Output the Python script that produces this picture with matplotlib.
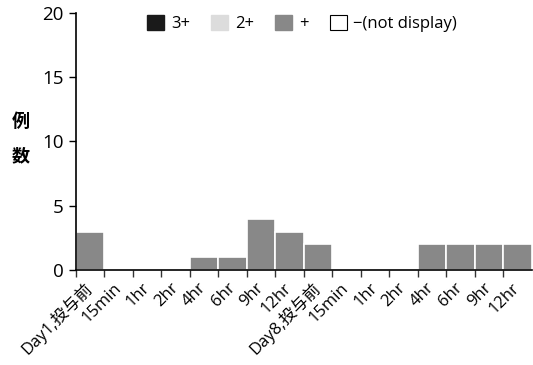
import numpy as np
import matplotlib
matplotlib.use("Agg")
import matplotlib.pyplot as plt
from matplotlib.patches import Patch

plt.rcParams['font.family'] = ['Open Sans', 'Noto Sans CJK JP', 'DejaVu Sans']

categories = ["Day1,投与前", "15min", "1hr", "2hr", "4hr", "6hr", "9hr", "12hr",
              "Day8,投与前", "15min", "1hr", "2hr", "4hr", "6hr", "9hr", "12hr"]
grade3 = [0, 0, 0, 0, 0, 0, 0, 0, 0, 0, 0, 0, 0, 0, 0, 0]
grade2 = [0, 0, 0, 0, 0, 0, 0, 0, 0, 0, 0, 0, 0, 0, 0, 0]
grade1 = [3, 0, 0, 0, 1, 1, 4, 3, 2, 0, 0, 0, 2, 2, 2, 2]

fig = plt.figure(figsize=(5.33, 3.65), dpi=100)
ax = fig.add_axes([0.1425, 0.26, 0.855, 0.705])

x = np.arange(len(categories))
bottom = np.zeros(len(categories))
for vals, col in [(grade3, "#1a1a1a"), (grade2, "#dcdcdc"), (grade1, "#888888")]:
    ax.bar(x, vals, bottom=bottom, width=1.0, color=col, edgecolor="white", linewidth=1.2)
    bottom += np.array(vals)

ax.set_xlim(-0.5, len(categories) - 0.5)
ax.set_ylim(0, 20)
ax.set_yticks([0, 5, 10, 15, 20])
ax.tick_params(axis="y", labelsize=13.5, length=5, width=1, pad=4)

# labels at bar centres, tick marks at the bar edges
ax.set_xticks(x)
ax.set_xticklabels(categories, rotation=45, ha="right", va="center", rotation_mode="anchor", fontsize=12)
ax.tick_params(axis="x", which="major", length=0, pad=11)
ax.set_xticks(np.arange(-0.5, len(categories) - 0.5, 1), minor=True)
ax.tick_params(axis="x", which="minor", length=5, width=1, color="#333333")

for s in ["top", "right"]:
    ax.spines[s].set_visible(False)
ax.spines["left"].set_linewidth(1.2)
ax.spines["bottom"].set_linewidth(1.2)

fig.text(0.038, 0.62, "例\n\n数", fontsize=13, fontweight="bold", ha="center", va="center",
         linespacing=0.9, family=['Noto Sans CJK JP'])

handles = [Patch(facecolor="#1a1a1a", edgecolor="#1a1a1a"),
           Patch(facecolor="#dcdcdc", edgecolor="#dcdcdc"),
           Patch(facecolor="#888888", edgecolor="#888888"),
           Patch(facecolor="white", edgecolor="black", linewidth=0.8)]
labels = ["3+", "2+", "+", "\u2212(not display)"]
fig.legend(handles, labels, loc="center", bbox_to_anchor=(0.567, 0.935), ncol=4, frameon=False,
           fontsize=12, handlelength=1.0, handleheight=1.0, handletextpad=0.4, columnspacing=1.3)

fig.savefig("out.png", dpi=100)
